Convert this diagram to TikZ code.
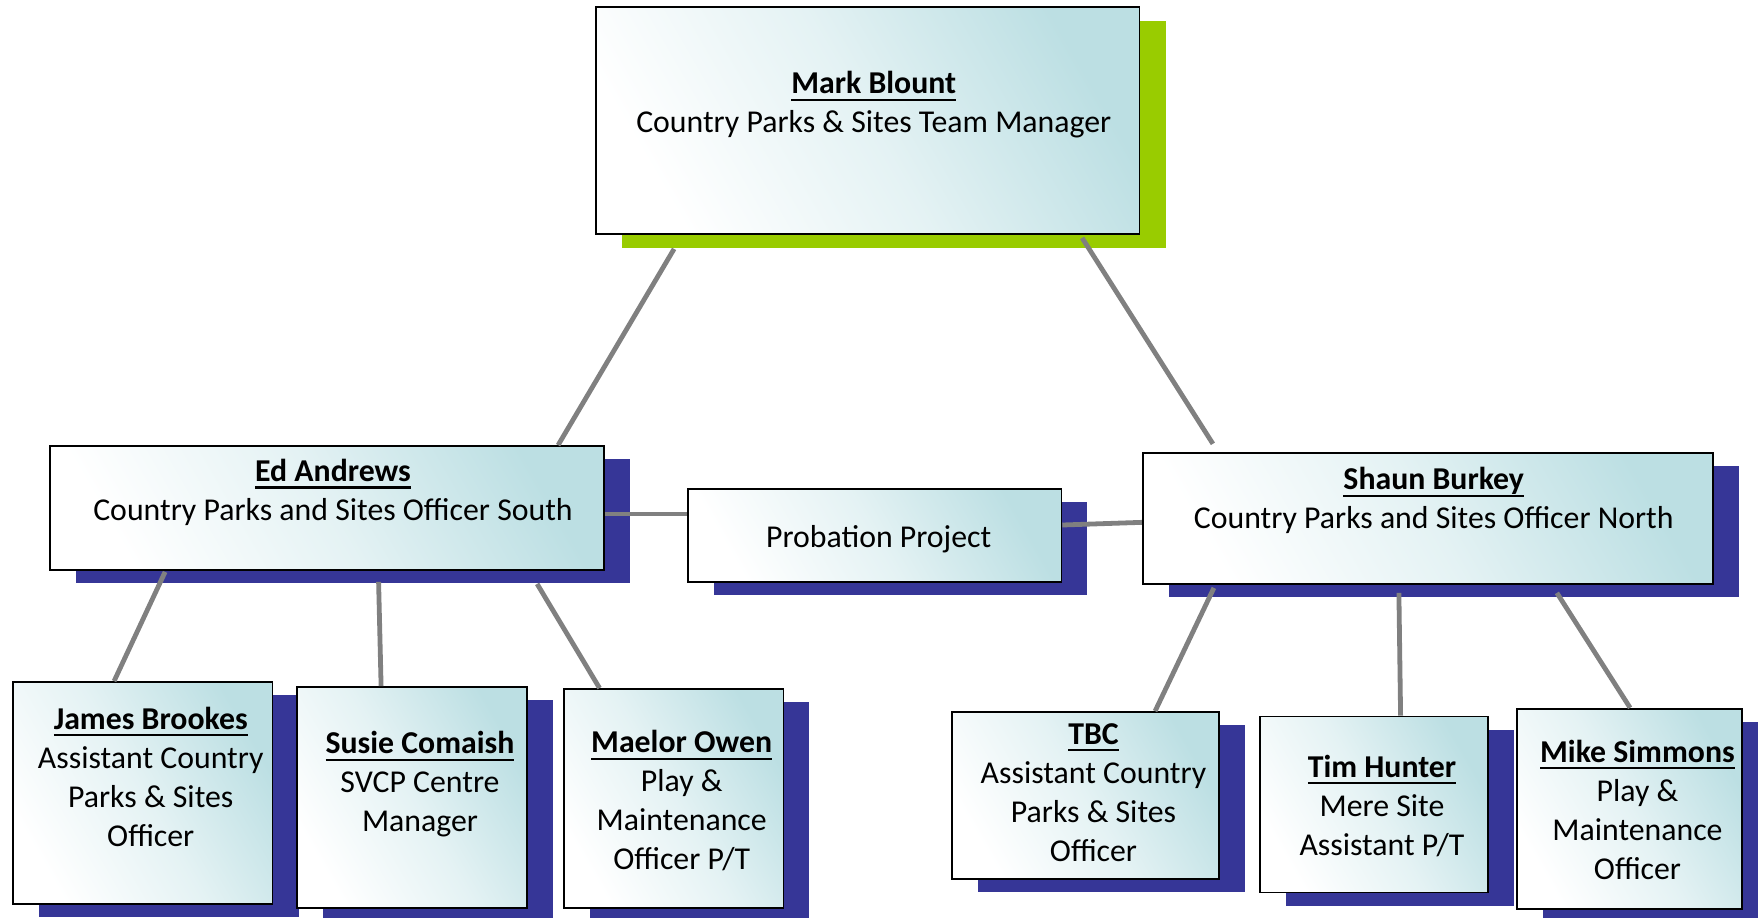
\documentclass[tikz,border=0pt]{standalone}
\usepackage{fontspec}
\setmainfont{Carlito}
\usetikzlibrary{calc,shadows}
\definecolor{cardteal}{HTML}{BCDFE3}
\definecolor{shadowblue}{HTML}{363697}
\definecolor{leadgreen}{HTML}{99CC00}
\definecolor{linkgray}{HTML}{808080}
\newcommand\nameul[1]{\setbox0\hbox{\textbf{#1}}\vtop{\copy0\kern-\dp0\kern2.4pt\hrule height 1.1pt}}
\begin{document}
\begin{tikzpicture}[x=0.5pt, y=-0.5pt, font=\fontsize{15.9pt}{19.5pt}\selectfont,
        cardbase/.style={draw=black, line width=0.9pt, inner sep=0pt, top color=cardteal, bottom color=white, middle color=cardteal!40!white, shading angle=-60},
        card/.style={cardbase, general shadow={fill=shadowblue, shadow xshift=13pt, shadow yshift=-6.5pt}},
        leadcard/.style={cardbase, general shadow={fill=leadgreen, shadow xshift=13pt, shadow yshift=-7pt}},
        cardtext/.style={align=center, inner sep=0pt},
        link/.style={draw=linkgray, line width=2.4pt}]
                \useasboundingbox (0,0) rectangle (1758,917);
                % boxes
                \node[leadcard, minimum width=271.75pt, minimum height=113.5pt] (mark) at (867.75,120.5) {};
                \node[card, minimum width=277pt, minimum height=62pt] (ed) at (327,508) {};
                \node[card, minimum width=186.7pt, minimum height=46.5pt] (prob) at (874.7,535.5) {};
                \node[card, minimum width=284.9pt, minimum height=65.65pt] (shaun) at (1427.7,518.35) {};
                \node[card, minimum width=129.75pt, minimum height=111pt] (james) at (142.75,793) {};
                \node[card, minimum width=115pt, minimum height=110.5pt] (susie) at (412,797.5) {};
                \node[card, minimum width=109.75pt, minimum height=109.5pt] (maelor) at (673.7,798.5) {};
                \node[card, minimum width=133.5pt, minimum height=83.5pt] (tbc) at (1085.5,795.5) {};
                \node[card, minimum width=114pt, minimum height=88pt] (tim) at (1374,804.5) {};
                \node[card, minimum width=112.5pt, minimum height=100pt] (mike) at (1629.5,808.7) {};
                % texts
                \node[cardtext] (marktext) at ([xshift=3pt, yshift=7.8pt]mark) {\nameul{Mark Blount}\\Country Parks \& Sites Team Manager};
                \node[cardtext] (edtext) at ([xshift=3pt, yshift=7.8pt]ed) {\nameul{Ed Andrews}\\Country Parks and Sites Officer South};
                \node[cardtext] (probtext) at ([xshift=2pt, yshift=-1.7pt]prob) {Probation Project};
                \node[cardtext] (shauntext) at ([xshift=3pt, yshift=8.8pt]shaun) {\nameul{Shaun Burkey}\\Country Parks and Sites Officer North};
                \node[cardtext] (jamestext) at ([xshift=4pt, yshift=8.25pt]james) {\nameul{James Brookes}\\Assistant Country\\Parks \& Sites\\Officer};
                \node[cardtext] (susietext) at ([xshift=4pt, yshift=6.6pt]susie) {\nameul{Susie Comaish}\\SVCP Centre\\Manager};
                \node[cardtext] (maelortext) at ([xshift=4pt, yshift=-1.2pt]maelor) {\nameul{Maelor Owen}\\Play \&\\Maintenance\\Officer P/T};
                \node[cardtext] (tbctext) at ([xshift=4pt, yshift=1.5pt]tbc) {\nameul{TBC}\\Assistant Country\\Parks \& Sites\\Officer};
                \node[cardtext] (timtext) at ([xshift=4pt, yshift=-0.75pt]tim) {\nameul{Tim Hunter}\\Mere Site\\Assistant P/T};
                \node[cardtext] (miketext) at ([xshift=4pt, yshift=-0.5pt]mike) {\nameul{Mike Simmons}\\Play \&\\Maintenance\\Officer};
                % links
                \draw[link] ($(mark.south west)+(79,14)$) -- ($(ed.north west)+(509,0)$);
                \draw[link] ($(mark.south west)+(487,3)$) -- ($(shaun.north west)+(71,-8)$);
                \draw[link] ($(ed.east)+(0,6)$) -- ($(prob.west)+(0,-21.5)$);
                \draw[link] ($(prob.east)+(0,-10.5)$) -- ($(shaun.west)+(0,4)$);
                \draw[link] ($(ed.south west)+(116,1)$) -- ($(james.north west)+(102,0)$);
                \draw[link] ($(ed.south west)+(329.5,11)$) -- ($(susie.north west)+(85,0)$);
                \draw[link] ($(ed.south west)+(488,13)$) -- ($(maelor.north west)+(36.5,0)$);
                \draw[link] ($(shaun.south west)+(72,3)$) -- ($(tbc.north west)+(204,0)$);
                \draw[link] ($(shaun.south west)+(257,8)$) -- ($(tim.north west)+(141.5,0)$);
                \draw[link] ($(shaun.south west)+(415,8)$) -- ($(mike.north west)+(114,0)$);
        \end{tikzpicture}
\end{document}
